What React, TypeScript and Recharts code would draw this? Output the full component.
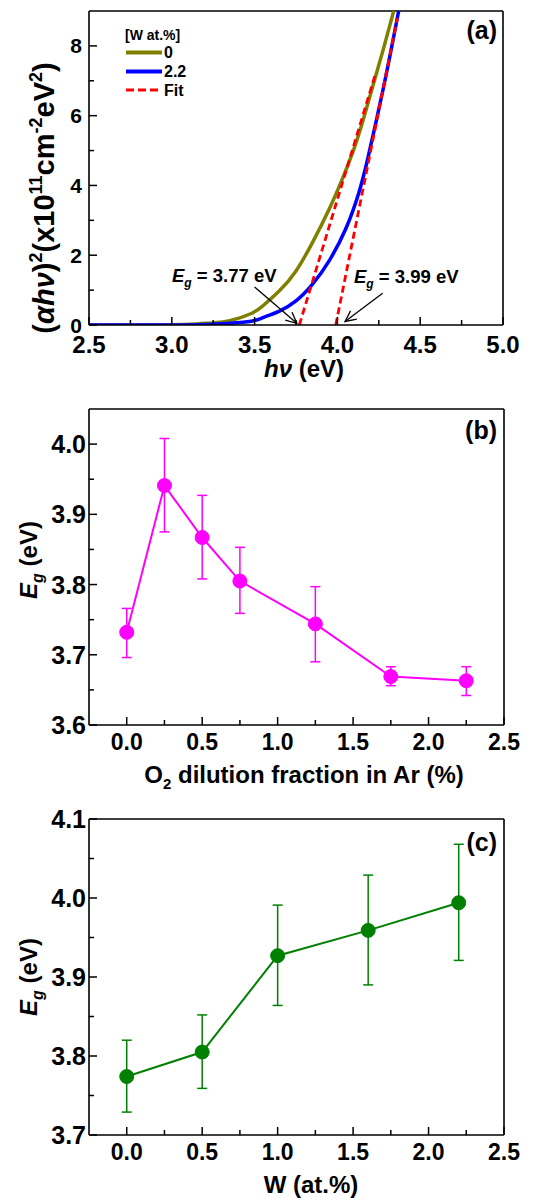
import { LineChart, Line, XAxis, YAxis, ErrorBar, ReferenceLine } from 'recharts'

const FONT = '"Liberation Sans", Arial, sans-serif'

// (a) Tauc plot, W 0 and 2.2 at.%
const hv0 = [2.5, 2.8, 3.0, 3.15, 3.25, 3.35, 3.48, 3.55, 3.65, 3.75, 3.85, 3.95, 4.03, 4.1, 4.16, 4.22, 4.28, 4.34]
const tauc0 = [0, 0, 0.005, 0.03, 0.06, 0.12, 0.33, 0.55, 0.98, 1.55, 2.37, 3.32, 4.19, 5.05, 5.95, 6.95, 7.95, 9.0]
const hv22 = [2.5, 2.8, 3.0, 3.2, 3.35, 3.48, 3.55, 3.65, 3.75, 3.85, 3.95, 4.05, 4.13, 4.18, 4.23, 4.28, 4.325, 4.37]
const tauc22 = [0, 0, 0.002, 0.015, 0.05, 0.11, 0.21, 0.4, 0.69, 1.17, 1.84, 2.75, 3.8, 4.7, 5.75, 6.85, 7.9, 9.0]
const fitHv1 = [3.77, 4.23]
const fitTauc1 = [0, 7.2]
const fitHv2 = [3.99, 4.362]
const fitTauc2 = [0, 8.8]

// (b) Eg vs O2 dilution
const o2Fraction = [0, 0.25, 0.5, 0.75, 1.25, 1.75, 2.25]
const egO2 = [3.732, 3.941, 3.867, 3.805, 3.744, 3.669, 3.663]
const egO2Low = [0.036, 0.066, 0.059, 0.046, 0.054, 0.013, 0.021]
const egO2High = [0.034, 0.067, 0.06, 0.048, 0.053, 0.014, 0.02]

// (c) Eg vs W content
const wContent = [0, 0.5, 1.0, 1.6, 2.2]
const egW = [3.774, 3.805, 3.927, 3.959, 3.994]
const egWLow = [0.045, 0.046, 0.063, 0.069, 0.073]
const egWHigh = [0.046, 0.047, 0.064, 0.07, 0.074]

const zip = (xs: number[], ys: number[]) => xs.map((x, i) => ({ x, y: ys[i] }))
const withErr = (xs: number[], ys: number[], lo: number[], hi: number[]) =>
  xs.map((x, i) => ({ x, y: ys[i], err: [lo[i], hi[i]] }))

const isMajor = (majors: number[], v: number) => majors.some((m) => Math.abs(m - v) < 1e-6)

function xTick(majors: number[], fontSize: number, offset: number, digits: number) {
  return (p: any) => {
    const v = p.payload.value
    const major = isMajor(majors, v)
    return (
      <g>
        <line x1={p.x} x2={p.x} y1={p.y} y2={p.y - (major ? 8 : 5)} stroke="#000" strokeWidth={1.5} />
        {major && (
          <text x={p.x} y={p.y + offset} textAnchor="middle" fontSize={fontSize} fontWeight="bold" fontFamily={FONT} fill="#000">
            {v.toFixed(digits)}
          </text>
        )}
      </g>
    )
  }
}

function yTick(majors: number[], fontSize: number, gap: number, digits: number) {
  return (p: any) => {
    const v = p.payload.value
    const major = isMajor(majors, v)
    return (
      <g>
        <line x1={p.x} x2={p.x + (major ? 8 : 5)} y1={p.y} y2={p.y} stroke="#000" strokeWidth={1.5} />
        {major && (
          <text x={p.x - gap} y={p.y} dy="0.36em" textAnchor="end" fontSize={fontSize} fontWeight="bold" fontFamily={FONT} fill="#000">
            {v.toFixed(digits)}
          </text>
        )}
      </g>
    )
  }
}

const Arrow = (p: any) => {
  const { x1, y1, x2, y2 } = p
  const a = Math.atan2(y2 - y1, x2 - x1)
  const L = 12
  const s = 0.45
  const ax = x2 - L * Math.cos(a - s)
  const ay = y2 - L * Math.sin(a - s)
  const bx = x2 - L * Math.cos(a + s)
  const by = y2 - L * Math.sin(a + s)
  return (
    <g stroke="#000" strokeWidth={1.3} fill="none">
      <line x1={x1} y1={y1} x2={x2} y2={y2} />
      <polyline points={`${ax},${ay} ${x2},${y2} ${bx},${by}`} />
    </g>
  )
}

const axisStroke = { stroke: '#000', strokeWidth: 1.6 }

const xMajorA = [2.5, 3.0, 3.5, 4.0, 4.5, 5.0]
const xMinorA = [2.75, 3.25, 3.75, 4.25, 4.75]
const yMajorA = [0, 2, 4, 6, 8]
const yMinorA = [1, 3, 5, 7]
const xMajorBC = [0, 0.5, 1.0, 1.5, 2.0, 2.5]
const xMinorBC = [0.25, 0.75, 1.25, 1.75, 2.25]
const yMajorB = [3.6, 3.7, 3.8, 3.9, 4.0]
const yMinorB = [3.65, 3.75, 3.85, 3.95]
const yMajorC = [3.7, 3.8, 3.9, 4.0, 4.1]
const yMinorC = [3.75, 3.85, 3.95, 4.05]

function PanelA() {
  return (
    <LineChart width={540} height={400} margin={{ top: 11, right: 37, left: 0, bottom: 45 }}>
      <XAxis dataKey="x" type="number" domain={[2.5, 5]} ticks={[...xMajorA, ...xMinorA]} interval={0}
        height={30} tickSize={0} tickMargin={0} tickLine={false} axisLine={axisStroke} tick={xTick(xMajorA, 24, 28, 1)} />
      <YAxis type="number" domain={[0, 9]} ticks={[...yMajorA, ...yMinorA]} interval={0} allowDataOverflow
        width={89} tickSize={0} tickMargin={0} tickLine={false} axisLine={axisStroke} tick={yTick(yMajorA, 21, 7, 0)} />
      <ReferenceLine y={9} stroke="#000" strokeWidth={1.6} />
      <ReferenceLine x={5} stroke="#000" strokeWidth={1.6} />
      <Line data={zip(hv0, tauc0)} dataKey="y" type="natural" stroke="#808000" strokeWidth={3.5} dot={false} isAnimationActive={false} />
      <Line data={zip(hv22, tauc22)} dataKey="y" type="natural" stroke="#0000ff" strokeWidth={3.5} dot={false} isAnimationActive={false} />
      <Line data={zip(fitHv1, fitTauc1)} dataKey="y" type="linear" stroke="#ff0000" strokeWidth={2.8} strokeDasharray="7 4" dot={false} isAnimationActive={false} />
      <Line data={zip(fitHv2, fitTauc2)} dataKey="y" type="linear" stroke="#ff0000" strokeWidth={2.8} strokeDasharray="7 4" dot={false} isAnimationActive={false} />
      <ReferenceLine segment={[{ x: 3.5, y: 1.09 }, { x: 3.755, y: 0.05 }]} shape={Arrow} ifOverflow="visible" />
      <ReferenceLine segment={[{ x: 4.273, y: 0.91 }, { x: 4.046, y: 0.1 }]} shape={Arrow} ifOverflow="visible" />
    </LineChart>
  )
}

function PanelEg({ data, color, yDomain, yMajor, yMinor, top, height }: {
  data: { x: number; y: number; err: number[] }[]; color: string; yDomain: [number, number]
  yMajor: number[]; yMinor: number[]; top: number; height: number
}) {
  return (
    <LineChart width={540} height={height} margin={{ top, right: 36, left: 0, bottom: height - top - 316 - 30 }}>
      <XAxis dataKey="x" type="number" domain={[-0.25, 2.5]} ticks={[...xMajorBC, ...xMinorBC]} interval={0}
        height={30} tickSize={0} tickMargin={0} tickLine={false} axisLine={axisStroke} tick={xTick(xMajorBC, 23, 25, 1)} />
      <YAxis type="number" domain={yDomain} ticks={[...yMajor, ...yMinor]} interval={0}
        width={89} tickSize={0} tickMargin={0} tickLine={false} axisLine={axisStroke} tick={yTick(yMajor, 25, 3, 1)} />
      <ReferenceLine y={yDomain[1]} stroke="#000" strokeWidth={1.6} />
      <ReferenceLine x={2.5} stroke="#000" strokeWidth={1.6} />
      <Line data={data} dataKey="y" type="linear" stroke={color} strokeWidth={2}
        dot={{ r: 7, fill: color, stroke: color, strokeWidth: 1 }} isAnimationActive={false}>
        <ErrorBar dataKey="err" direction="y" width={5} stroke={color} strokeWidth={1.5} />
      </Line>
    </LineChart>
  )
}

const T = { fontFamily: FONT, fontWeight: 'bold' as const, fill: '#000' }

function Overlay() {
  return (
    <svg width={540} height={1198} style={{ position: 'absolute', left: 0, top: 0, pointerEvents: 'none' }}>
      {/* panel (a) */}
      <text x={54} y={198} transform="rotate(-90 54 198)" textAnchor="middle" fontSize={29} {...T}>
        <tspan>(</tspan>
        <tspan fontStyle="italic">αhν</tspan>
        <tspan>)</tspan>
        <tspan fontSize={18} dy={-12}>2</tspan>
        <tspan dy={12}>(x10</tspan>
        <tspan fontSize={18} dy={-12}>11</tspan>
        <tspan dy={12}>cm</tspan>
        <tspan fontSize={18} dy={-12}>-2</tspan>
        <tspan dy={12}>eV</tspan>
        <tspan fontSize={18} dy={-12}>2</tspan>
        <tspan dy={12}>)</tspan>
      </text>
      <text x={304} y={377} textAnchor="middle" fontSize={24} {...T}>
        <tspan fontStyle="italic">hν</tspan>
        <tspan> (eV)</tspan>
      </text>
      <text x={497} y={39} textAnchor="end" fontSize={25} {...T}>(a)</text>
      <text x={125} y={40} fontSize={14} {...T}>[W at.%]</text>
      <line x1={126} x2={162} y1={52.5} y2={52.5} stroke="#808000" strokeWidth={4} />
      <text x={164} y={58} fontSize={16} {...T}>0</text>
      <line x1={126} x2={162} y1={71.5} y2={71.5} stroke="#0000ff" strokeWidth={4} />
      <text x={164} y={77} fontSize={16} {...T}>2.2</text>
      <line x1={126} x2={160} y1={90} y2={90} stroke="#ff0000" strokeWidth={3} strokeDasharray="8 4" />
      <text x={164} y={96} fontSize={16} {...T}>Fit</text>
      <text x={172} y={282} fontSize={18.5} {...T}>
        <tspan fontStyle="italic">E</tspan>
        <tspan fontStyle="italic" fontSize={12} dy={5}>g</tspan>
        <tspan dy={-5}> = 3.77 eV</tspan>
      </text>
      <text x={354} y={283} fontSize={18.5} {...T}>
        <tspan fontStyle="italic">E</tspan>
        <tspan fontStyle="italic" fontSize={12} dy={5}>g</tspan>
        <tspan dy={-5}> = 3.99 eV</tspan>
      </text>

      {/* panel (b) */}
      <text x={497} y={439} textAnchor="end" fontSize={25} {...T}>(b)</text>
      <text x={37} y={560} transform="rotate(-90 37 560)" textAnchor="middle" fontSize={24} {...T}>
        <tspan fontStyle="italic">E</tspan>
        <tspan fontStyle="italic" fontSize={16} dy={6}>g</tspan>
        <tspan dy={-6}> (eV)</tspan>
      </text>
      <text x={304} y={783} textAnchor="middle" fontSize={24} {...T}>
        <tspan>O</tspan>
        <tspan fontSize={15} dy={6}>2</tspan>
        <tspan dy={-6}> dilution fraction in Ar (%)</tspan>
      </text>

      {/* panel (c) */}
      <text x={497} y={851} textAnchor="end" fontSize={25} {...T}>(c)</text>
      <text x={37} y={977} transform="rotate(-90 37 977)" textAnchor="middle" fontSize={24} {...T}>
        <tspan fontStyle="italic">E</tspan>
        <tspan fontStyle="italic" fontSize={16} dy={6}>g</tspan>
        <tspan dy={-6}> (eV)</tspan>
      </text>
      <text x={311} y={1193} textAnchor="middle" fontSize={24} {...T}>W (at.%)</text>
    </svg>
  )
}

export default function App() {
  return (
    <div style={{ position: 'relative', width: 540, height: 1198, background: '#fff', overflow: 'hidden' }}>
      <style>{'body{margin:0}'}</style>
      <div style={{ position: 'absolute', left: 0, top: 0 }}>
        <PanelA />
      </div>
      <div style={{ position: 'absolute', left: 0, top: 400 }}>
        <PanelEg data={withErr(o2Fraction, egO2, egO2Low, egO2High)} color="#ff00ff" yDomain={[3.6, 4.05]}
          yMajor={yMajorB} yMinor={yMinorB} top={9} height={400} />
      </div>
      <div style={{ position: 'absolute', left: 0, top: 800 }}>
        <PanelEg data={withErr(wContent, egW, egWLow, egWHigh)} color="#008000" yDomain={[3.7, 4.1]}
          yMajor={yMajorC} yMinor={yMinorC} top={19} height={398} />
      </div>
      <Overlay />
    </div>
  )
}
